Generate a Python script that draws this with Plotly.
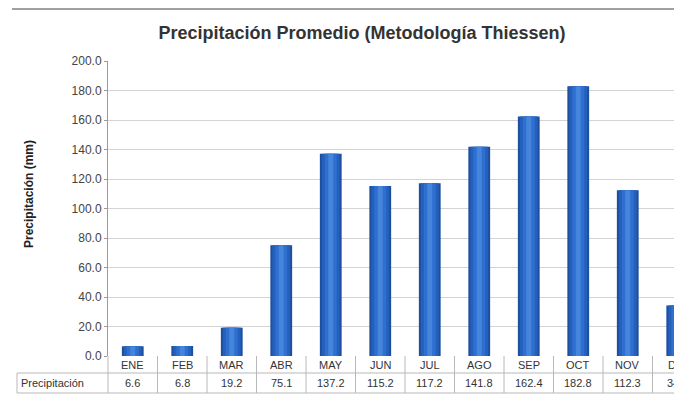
import plotly.graph_objects as go

months = ["ENE", "FEB", "MAR", "ABR", "MAY", "JUN", "JUL", "AGO", "SEP", "OCT", "NOV", "DIC"]
precip = [6.6, 6.8, 19.2, 75.1, 137.2, 115.2, 117.2, 141.8, 162.4, 182.8, 112.3, 34.3]
row_label = "Precipitación"
title = "Precipitación Promedio (Metodología Thiessen)"
y_title = "Precipitación (mm)"
y_ticks = [0, 20, 40, 60, 80, 100, 120, 140, 160, 180, 200]

FONT = "Liberation Sans, Arial, sans-serif"
xs = list(range(len(months)))

# geometry (figure px; page adds an 8px body margin)
L, T, PH = 100, 53, 295
PW = 682 - L
CAT = 49.5

fig = go.Figure()
layers = [(0.44, "#1d4f9e"), (0.36, "#2560bd"), (0.24, "#2e6fd0"), (0.10, "#4685dc")]
for w, c in layers:
    fig.add_trace(go.Bar(x=xs, y=precip, width=w, marker=dict(color=c, line=dict(width=0)),
                         hoverinfo="skip", showlegend=False))

fig.update_layout(
    width=682, height=420,
    barmode="overlay",
    margin=dict(l=L, r=0, t=T, b=420 - T - PH),
    paper_bgcolor="white", plot_bgcolor="white",
    font=dict(family=FONT, color="#333333"),
    title=dict(text="<b>" + title + "</b>", x=354 / 682, xanchor="center",
               y=1 - 25 / 420, yanchor="middle",
               font=dict(size=18, color="#333333", family=FONT)),
    showlegend=False,
)
fig.update_xaxes(range=[-0.5, -0.5 + PW / CAT], showticklabels=False, showgrid=False,
                 zeroline=False, showline=False, ticks="")
fig.update_yaxes(range=[0, 200], tickvals=y_ticks, tickformat=".1f",
                 showgrid=True, gridcolor="#d4d4d4", gridwidth=1,
                 showline=True, linecolor="#9a9a9a", linewidth=1,
                 ticks="outside", ticklen=3, tickcolor="#9a9a9a",
                 zeroline=False, tickfont=dict(size=12, color="#444444", family=FONT))

H = float(PH)
r1 = -17 / H
r2 = -37 / H
left_px = (9 - L) / PW
line = dict(color="#b8b8b8", width=1)
shapes = []
shapes.append(dict(type="line", xref="paper", yref="paper", x0=left_px, x1=1, y0=r1, y1=r1, line=line))
shapes.append(dict(type="line", xref="paper", yref="paper", x0=left_px, x1=1, y0=r2, y1=r2, line=line))
shapes.append(dict(type="line", xref="paper", yref="paper", x0=left_px, x1=left_px, y0=r1, y1=r2, line=line))
shapes.append(dict(type="line", xref="paper", yref="paper", x0=0, x1=0, y0=0, y1=r2, line=line))
for i in range(len(months) - 1):
    shapes.append(dict(type="line", xref="x", yref="paper", x0=i + 0.5, x1=i + 0.5, y0=0, y1=r2, line=line))
shapes.append(dict(type="line", xref="paper", yref="paper", x0=(4 - L) / PW, x1=1,
                   y0=1 + (T - 1) / H, y1=1 + (T - 1) / H, line=dict(color="#a0a0a0", width=2)))
fig.update_layout(shapes=shapes)

tfont = dict(size=11, color="#333333", family=FONT)
ann = []
for i, (m, v) in enumerate(zip(months, precip)):
    ann.append(dict(x=i, y=r1 / 2, xref="x", yref="paper", text=m, showarrow=False,
                    font=tfont, xanchor="center", yanchor="middle"))
    ann.append(dict(x=i, y=(r1 + r2) / 2, xref="x", yref="paper", text=f"{v:.1f}", showarrow=False,
                    font=tfont, xanchor="center", yanchor="middle"))
ann.append(dict(x=left_px + 2 / PW, y=(r1 + r2) / 2, xref="paper", yref="paper", text=row_label,
                showarrow=False, font=tfont, xanchor="left", yanchor="middle"))
ann.append(dict(x=(21 - L) / PW, y=1 - (186 - T) / H, xref="paper", yref="paper",
                text="<b>" + y_title + "</b>", textangle=-90, showarrow=False,
                font=dict(size=12, color="#222222", family=FONT), xanchor="center", yanchor="middle"))
fig.update_layout(annotations=ann)

fig.write_html("out.html")
